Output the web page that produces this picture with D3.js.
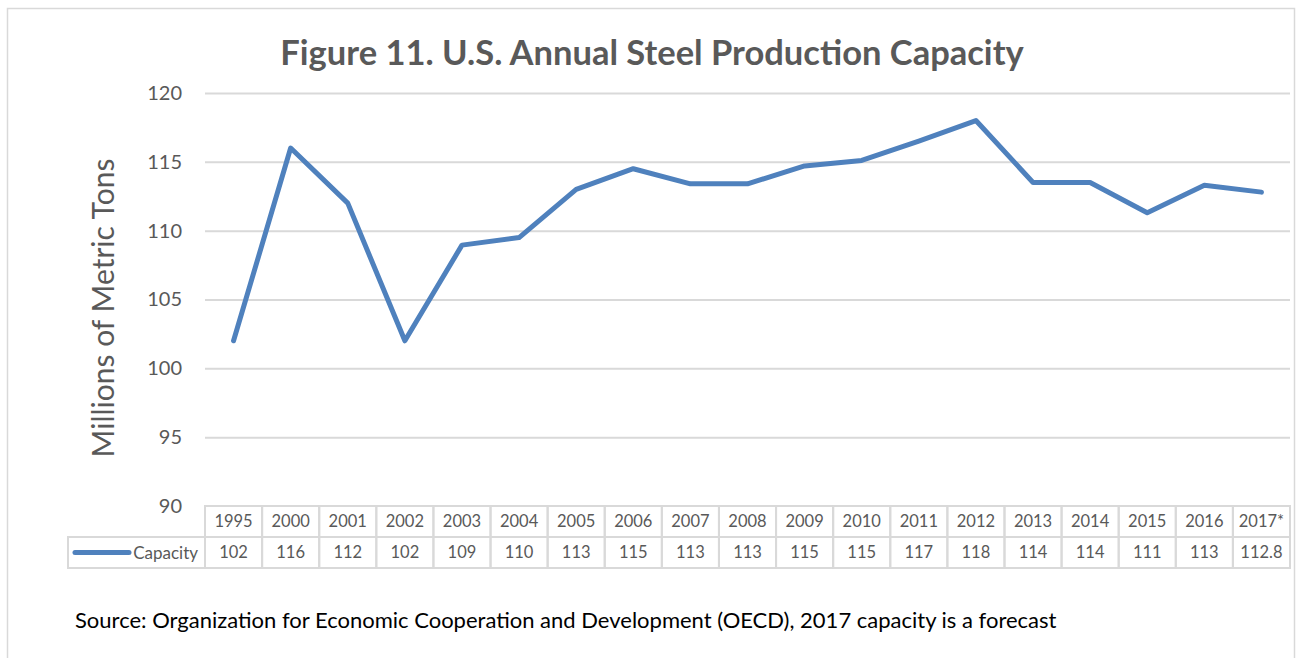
<!DOCTYPE html>
<html>
<head>
<meta charset="utf-8">
<script src="https://cdn.jsdelivr.net/npm/d3@7"></script>
<style>
  html, body { margin: 0; padding: 0; background: #fff; }
  svg { display: block; font-family: Lato, "Open Sans", sans-serif; }
</style>
</head>
<body>
<div id="chart"></div>
<script>
// dati
var years = ["1995", "2000", "2001", "2002", "2003", "2004", "2005", "2006", "2007", "2008",
             "2009", "2010", "2011", "2012", "2013", "2014", "2015", "2016", "2017*"];
var capacity = [102, 116, 112, 102, 108.95, 109.5, 113, 114.5, 113.4, 113.4,
                114.7, 115.1, 116.5, 118, 113.5, 113.5, 111.3, 113.3, 112.8];
var capacityLabels = ["102", "116", "112", "102", "109", "110", "113", "115", "113", "113",
                      "115", "115", "117", "118", "114", "114", "111", "113", "112.8"];
var yTicks = [90, 95, 100, 105, 110, 115, 120];
var seriesName = "Capacity";

var width = 1296;
var height = 658;
var textColor = "#595959";
var gridColor = "#d9d9d9";
var lineColor = "#4f81bd";

var svg = d3.select("#chart")
            .append("svg")
            .attr("width", width)
            .attr("height", height);

// bordo esterno del grafico (il lato inferiore esce dall'immagine)
svg.append("rect")
   .attr("x", 7.5)
   .attr("y", 8.5)
   .attr("width", 1287)
   .attr("height", 700)
   .attr("fill", "#fff")
   .attr("stroke", gridColor)
   .attr("stroke-width", 1.5);

var x = d3.scaleBand().domain(years).range([205, 1290]).padding(0);
var y = d3.scaleLinear().domain([90, 120]).range([506, 93]);

// titolo
svg.append("text")
   .attr("x", 652)
   .attr("y", 65)
   .attr("text-anchor", "middle")
   .attr("font-weight", "bold")
   .attr("font-size", 34.5)
   .attr("fill", textColor)
   .text("Figure 11. U.S. Annual Steel Production Capacity");

// asse y con griglia
var yAxis = svg.append("g")
               .attr("transform", "translate(205,0)")
               .call(d3.axisLeft(y).tickValues(yTicks).tickSize(-(1290 - 205)).tickPadding(23));

yAxis.select(".domain").remove();
yAxis.selectAll("line")
     .attr("stroke", gridColor)
     .attr("stroke-width", 2)
     .attr("stroke-opacity", function(d) { return d === 90 ? 0 : 1; });
yAxis.selectAll("text")
     .attr("fill", textColor)
     .attr("font-size", 20)
     .attr("font-family", "Lato, sans-serif");

// titolo asse y
svg.append("text")
   .attr("transform", "translate(114,308) rotate(-90)")
   .attr("text-anchor", "middle")
   .attr("font-size", 30)
   .attr("fill", textColor)
   .text("Millions of Metric Tons");

// linea
var line = d3.line()
             .x(function(d, i) { return x(years[i]) + x.bandwidth() / 2; })
             .y(function(d) { return y(d); });

svg.append("path")
   .datum(capacity)
   .attr("d", line)
   .attr("fill", "none")
   .attr("stroke", lineColor)
   .attr("stroke-width", 5)
   .attr("stroke-linejoin", "round")
   .attr("stroke-linecap", "round");

// tabella dati sotto il grafico
var rowTop = 506;
var rowH = 31;
var table = svg.append("g");

table.selectAll("rect.head")
     .data(years)
     .enter()
     .append("rect")
     .attr("class", "head")
     .attr("x", function(d) { return x(d); })
     .attr("y", rowTop)
     .attr("width", x.bandwidth())
     .attr("height", rowH)
     .attr("fill", "none")
     .attr("stroke", gridColor)
     .attr("stroke-width", 2);

table.selectAll("rect.val")
     .data(years)
     .enter()
     .append("rect")
     .attr("class", "val")
     .attr("x", function(d) { return x(d); })
     .attr("y", rowTop + rowH)
     .attr("width", x.bandwidth())
     .attr("height", rowH)
     .attr("fill", "none")
     .attr("stroke", gridColor)
     .attr("stroke-width", 2);

// cella della legenda
table.append("rect")
     .attr("x", 68)
     .attr("y", rowTop + rowH)
     .attr("width", 205 - 68)
     .attr("height", rowH)
     .attr("fill", "none")
     .attr("stroke", gridColor)
     .attr("stroke-width", 2);

table.append("line")
     .attr("x1", 75)
     .attr("x2", 129)
     .attr("y1", rowTop + rowH * 1.5)
     .attr("y2", rowTop + rowH * 1.5)
     .attr("stroke", lineColor)
     .attr("stroke-width", 5)
     .attr("stroke-linecap", "round");

table.append("text")
     .attr("x", 198)
     .attr("y", rowTop + rowH * 1.5)
     .attr("dy", "0.36em")
     .attr("text-anchor", "end")
     .attr("font-size", 17)
     .attr("fill", textColor)
     .text(seriesName);

table.selectAll("text.year")
     .data(years)
     .enter()
     .append("text")
     .attr("class", "year")
     .attr("x", function(d) { return x(d) + x.bandwidth() / 2; })
     .attr("y", rowTop + rowH / 2)
     .attr("dy", "0.36em")
     .attr("text-anchor", "middle")
     .attr("font-size", 16.5)
     .attr("fill", textColor)
     .text(function(d) { return d; });

table.selectAll("text.val")
     .data(capacityLabels)
     .enter()
     .append("text")
     .attr("class", "val")
     .attr("x", function(d, i) { return x(years[i]) + x.bandwidth() / 2; })
     .attr("y", rowTop + rowH * 1.5)
     .attr("dy", "0.36em")
     .attr("text-anchor", "middle")
     .attr("font-size", 16.5)
     .attr("fill", textColor)
     .text(function(d) { return d; });

// fonte
svg.append("text")
   .attr("x", 75)
   .attr("y", 628)
   .attr("font-size", 22)
   .attr("fill", "#000")
   .text("Source: Organization for Economic Cooperation and Development (OECD), 2017 capacity is a forecast");
</script>
</body>
</html>
